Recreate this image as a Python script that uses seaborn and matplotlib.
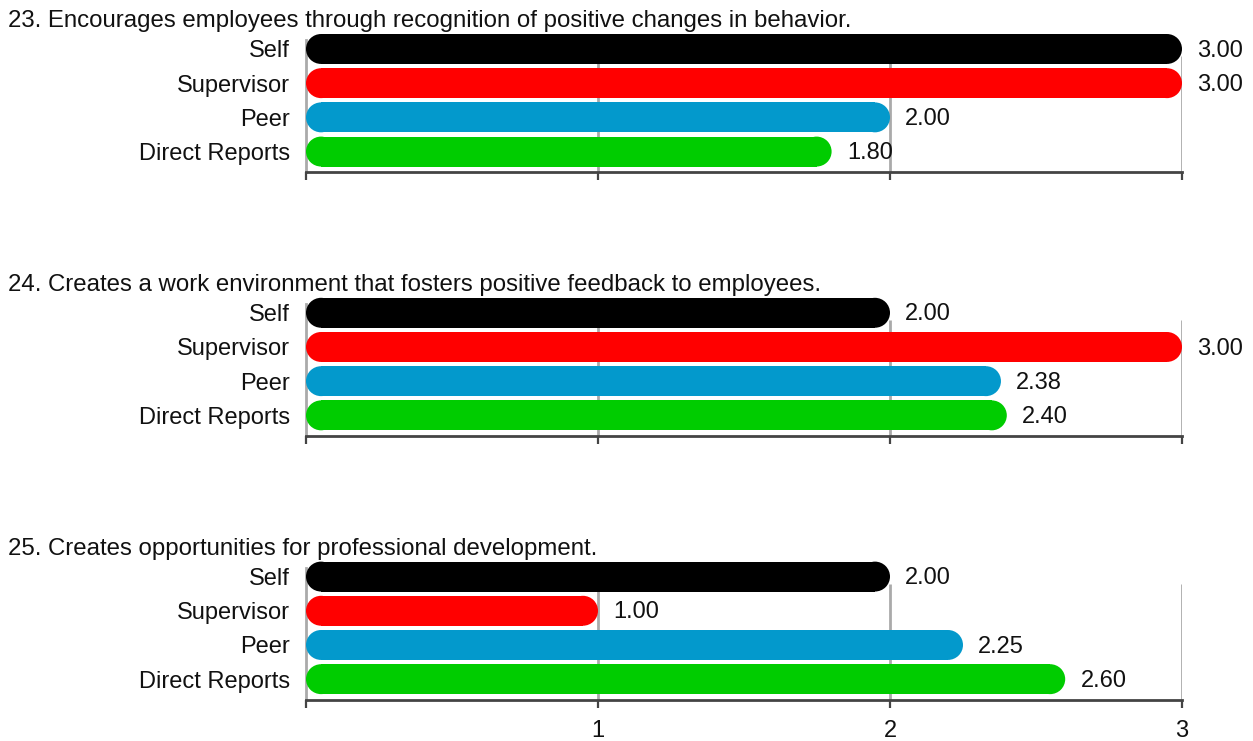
import matplotlib
matplotlib.use("Agg")
import matplotlib.pyplot as plt
from matplotlib.patches import Ellipse
import seaborn as sns

# Rater groups and their bar colours
categories = ["Self", "Supervisor", "Peer", "Direct Reports"]
colors = ["#000000", "#ff0000", "#0399cc", "#00cc00"]

# Item statements
titles = [
    "23. Encourages employees through recognition of positive changes in behavior.",
    "24. Creates a work environment that fosters positive feedback to employees.",
    "25. Creates opportunities for professional development.",
]

# Mean ratings per rater group
q23 = [3.00, 3.00, 2.00, 1.80]
q24 = [2.00, 3.00, 2.38, 2.40]
q25 = [2.00, 1.00, 2.25, 2.60]
scores = [q23, q24, q25]

x_ticks = [0, 1, 2, 3]
x_ticklabels = ["", "1", "2", "3"]

sns.set_style("white")
plt.rcParams["font.family"] = ["Liberation Sans", "DejaVu Sans"]

W, H = 1253, 741
fig = plt.figure(figsize=(W / 100, H / 100), dpi=100)

FS = 17
TEXT = "#111111"
GRID = "#aaaaaa"
AXIS = "#444444"

left_px, right_px = 306, 1182
panel_step = 263.8
unit_y = 34.3          # pixels per bar slot
bar_h = 30 / unit_y    # bar thickness in slot units
y_top = -9 / unit_y
y_bot = 3 + 20.5 / unit_y


def px_axes(left, top, right, bottom):
    return fig.add_axes([left / W, 1 - bottom / H, (right - left) / W, (bottom - top) / H])


for k, (title, vals) in enumerate(zip(titles, scores)):
    off = k * panel_step
    ax = px_axes(left_px, 40 + off, right_px, 172 + off)

    sns.barplot(x=vals, y=categories, hue=categories, palette=colors,
                legend=False, orient="h", width=bar_h, saturation=1,
                errorbar=None, ax=ax)

    ax.set_xlim(0, 3)
    ax.set_ylim(y_bot, y_top)
    ax.set_xlabel("")
    ax.set_ylabel("")

    # value labels at the bar ends
    for cont in ax.containers:
        for ann in ax.bar_label(cont, fmt="%.2f", padding=11, fontsize=FS, color=TEXT):
            ann.xyann = (11, -1.2)

    # give each bar semicircular ends of the same overall extent
    xpx = (right_px - left_px) / 3
    r = 15 / xpx       # cap radius in x units
    for cont in ax.containers:
        for rect in cont.patches:
            x0, y0 = rect.get_x(), rect.get_y()
            w, h = rect.get_width(), rect.get_height()
            yc = y0 + h / 2
            fc = rect.get_facecolor()
            rect.set_x(x0 + r)
            rect.set_width(w - 2 * r)
            rect.set_edgecolor("none")
            rect.set_linewidth(0)
            rect.set_clip_on(False)
            rect.set_zorder(3)
            for cx in (x0 + r, x0 + w - r):
                ax.add_patch(Ellipse((cx, yc), 2 * r, h, facecolor=fc,
                                     edgecolor="none", clip_on=False, zorder=3))

    # vertical guide lines
    ax.vlines([1, 2, 3], 7 / unit_y, y_bot, color=GRID, lw=2, zorder=0)

    for s in ["top", "right"]:
        ax.spines[s].set_visible(False)
    ax.spines["left"].set_color(GRID)
    ax.spines["left"].set_linewidth(2)
    ax.spines["left"].set_zorder(0)
    ax.spines["bottom"].set_color(AXIS)
    ax.spines["bottom"].set_linewidth(2)

    ax.set_xticks(x_ticks)
    if k == len(titles) - 1:
        ax.set_xticklabels(x_ticklabels, fontsize=FS, color=TEXT)
    else:
        ax.set_xticklabels([])
    ax.tick_params(axis="x", direction="out", length=5.5, width=1.6,
                   color=AXIS, pad=9.5, bottom=True)
    ax.tick_params(axis="y", length=0, pad=11.5, labelsize=FS, labelcolor=TEXT)
    ax.grid(False)
    ax.patch.set_alpha(0)

    fig.text(8 / W, 1 - (27 + off) / H, title, fontsize=17.3, color=TEXT,
             ha="left", va="baseline")

fig.savefig("out.png", dpi=100)
